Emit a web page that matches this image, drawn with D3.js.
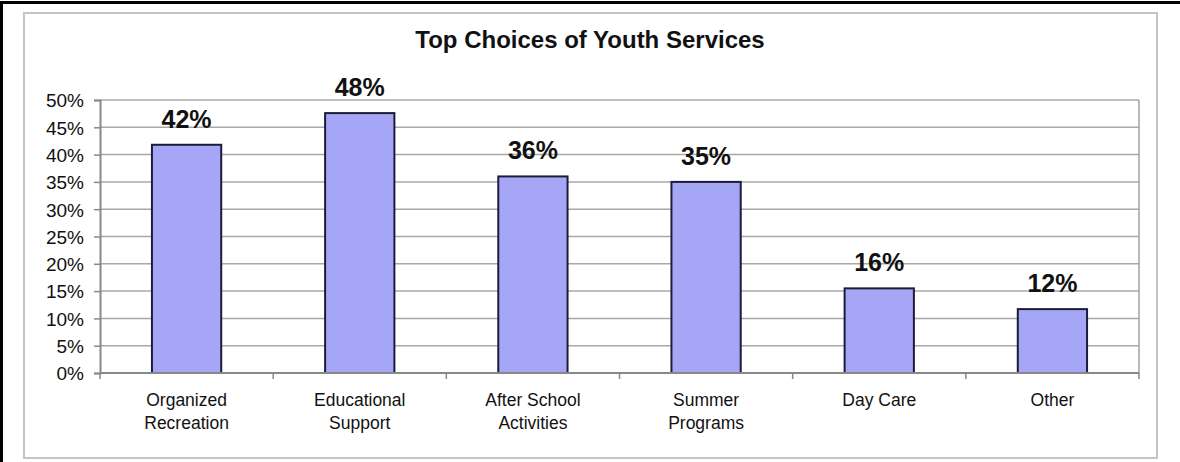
<!DOCTYPE html>
<html>
<head>
<meta charset="utf-8">
<script src="https://cdn.jsdelivr.net/npm/d3@7"></script>
<style>
    body { margin: 0; background: #fff; }
    svg text { font-family: "Liberation Sans", Arial, sans-serif; fill: #111; }
</style>
</head>
<body>
<div id="graphDiv"></div>
<script>
// data //
var categories = [["Organized", "Recreation"], ["Educational", "Support"], ["After School", "Activities"],
    ["Summer", "Programs"], ["Day Care"], ["Other"]];
var values = [41.8, 47.6, 36.0, 35.0, 15.5, 11.7];
var yTicks = [0, 5, 10, 15, 20, 25, 30, 35, 40, 45, 50];
var title = "Top Choices of Youth Services";

var W = 1180, H = 462;
var plot = {left: 100, right: 1139, top: 100, bottom: 373};

var svg = d3.select("#graphDiv").append("svg")
    .attr("width", W)
    .attr("height", H);

// outer black border (top & left only visible)
svg.append("rect").attr("x", 0).attr("y", 1).attr("width", W).attr("height", 3).attr("fill", "#000");
svg.append("rect").attr("x", 0).attr("y", 1).attr("width", 3).attr("height", H).attr("fill", "#000");

// chart frame
svg.append("rect")
    .attr("x", 24).attr("y", 13)
    .attr("width", 1133).attr("height", 445)
    .attr("fill", "none")
    .attr("stroke", "#c4c4c4")
    .attr("stroke-width", 2);

var xScale = d3.scaleBand()
    .domain(d3.range(categories.length))
    .range([plot.left, plot.right])
    .paddingInner(0.6)
    .paddingOuter(0.3);

var yScale = d3.scaleLinear()
    .domain([0, 50])
    .range([plot.bottom, plot.top]);

// grid lines
svg.append("g").selectAll("line")
    .data(yTicks.filter(function (d) { return d > 0; }))
    .enter().append("line")
    .attr("x1", plot.left).attr("x2", plot.right)
    .attr("y1", function (d) { return yScale(d); })
    .attr("y2", function (d) { return yScale(d); })
    .attr("stroke", "#a8a8a8")
    .attr("stroke-width", 1.5);

// right border of plot area
svg.append("line")
    .attr("x1", plot.right).attr("x2", plot.right)
    .attr("y1", plot.top).attr("y2", plot.bottom)
    .attr("stroke", "#a0a0a0").attr("stroke-width", 1.5);

// bars
svg.append("g").selectAll("rect")
    .data(values)
    .enter().append("rect")
    .attr("x", function (d, i) { return xScale(i); })
    .attr("y", function (d) { return yScale(d); })
    .attr("width", xScale.bandwidth())
    .attr("height", function (d) { return yScale(0) - yScale(d); })
    .attr("fill", "#a6a6f7")
    .attr("stroke", "#1c1c3a")
    .attr("stroke-width", 2);

// y axis
var yAxis = d3.axisLeft(yScale)
    .tickValues(yTicks)
    .tickSize(6)
    .tickPadding(10)
    .tickFormat(function (d) { return d + "%"; });
var gy = svg.append("g")
    .attr("transform", "translate(" + plot.left + ",0)")
    .call(yAxis);
gy.select(".domain").attr("stroke", "#888").attr("stroke-width", 2);
gy.selectAll(".tick line").attr("stroke", "#888").attr("stroke-width", 1.5);
gy.selectAll(".tick text")
    .attr("font-size", 19)
    .attr("dy", "0.36em")
    .style("font-family", "'Liberation Sans', Arial, sans-serif")
    .attr("fill", "#111");

// x axis (ticks at band boundaries)
var step = xScale.step();
var boundaries = d3.range(categories.length + 1).map(function (i) { return plot.left + i * step; });
svg.append("line")
    .attr("x1", plot.left).attr("x2", plot.right)
    .attr("y1", plot.bottom).attr("y2", plot.bottom)
    .attr("stroke", "#888").attr("stroke-width", 2);
svg.append("g").selectAll("line")
    .data(boundaries)
    .enter().append("line")
    .attr("x1", function (d) { return d; }).attr("x2", function (d) { return d; })
    .attr("y1", plot.bottom).attr("y2", plot.bottom + 6)
    .attr("stroke", "#888").attr("stroke-width", 1.5);

// category labels
var catG = svg.append("g").selectAll("text")
    .data(categories)
    .enter().append("text")
    .attr("text-anchor", "middle")
    .attr("font-size", 17.5)
    .attr("x", function (d, i) { return xScale(i) + xScale.bandwidth() / 2; })
    .attr("y", 406);
catG.selectAll("tspan")
    .data(function (d) { return d; })
    .enter().append("tspan")
    .attr("x", function () { return d3.select(this.parentNode).attr("x"); })
    .attr("dy", function (d, i) { return i === 0 ? 0 : 23; })
    .text(function (d) { return d; });

// value labels
svg.append("g").selectAll("text")
    .data(values)
    .enter().append("text")
    .attr("text-anchor", "middle")
    .attr("font-size", 25)
    .attr("font-weight", "bold")
    .attr("x", function (d, i) { return xScale(i) + xScale.bandwidth() / 2; })
    .attr("y", function (d) { return yScale(d) - 17; })
    .text(function (d) { return Math.round(d) + "%"; });

// title
svg.append("text")
    .attr("x", 590)
    .attr("y", 48)
    .attr("text-anchor", "middle")
    .attr("font-size", 24)
    .attr("font-weight", "bold")
    .text(title);
</script>
</body>
</html>
